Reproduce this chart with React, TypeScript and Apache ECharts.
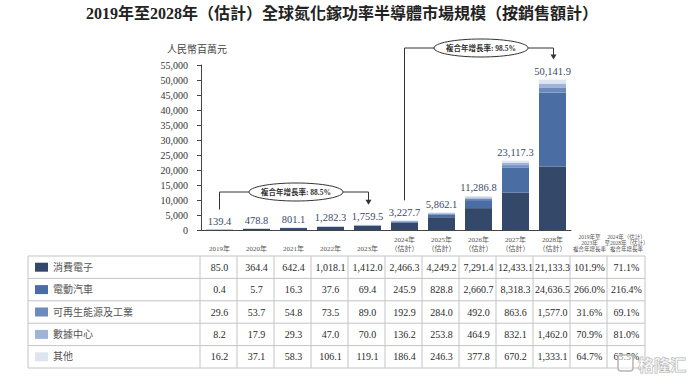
import React, { useEffect, useRef } from "react";
import * as echarts from "echarts";

const years = [
  "2019年", "2020年", "2021年", "2022年", "2023年",
  "2024年\n（估計）", "2025年\n（估計）", "2026年\n（估計）", "2027年\n（估計）", "2028年\n（估計）",
];
const segmentNames = ["消費電子", "電動汽車", "可再生能源及工業", "數據中心", "其他"];
const consumer = [85.0, 364.4, 642.4, 1018.1, 1412.0, 2466.3, 4249.2, 7291.4, 12433.1, 21133.3];
const ev = [0.4, 5.7, 16.3, 37.6, 69.4, 245.9, 828.8, 2660.7, 8318.3, 24636.5];
const renewable = [29.6, 53.7, 54.8, 73.5, 89.0, 192.9, 284.0, 492.0, 863.6, 1577.0];
const datacenter = [8.2, 17.9, 29.3, 47.0, 70.0, 136.2, 253.8, 464.9, 832.1, 1462.0];
const other = [16.2, 37.1, 58.3, 106.1, 119.1, 186.4, 246.3, 377.8, 670.2, 1333.1];
const totals = [139.4, 478.8, 801.1, 1282.3, 1759.5, 3227.7, 5862.1, 11286.8, 23117.3, 50141.9];
const cagrHist = ["101.9%", "266.0%", "31.6%", "70.9%", "64.7%"];
const cagrFcst = ["71.1%", "216.4%", "69.1%", "81.0%", "63.5%"];
const cagrHeaders = ["2019年至\n2023年\n複合年增長率", "2024年（估計）\n至2028年（估計）\n複合年增長率"];
const cagrNotes = [
  { from: 0, to: 4, label: "複合年增長率: 88.5%" },
  { from: 5, to: 9, label: "複合年增長率: 98.5%" },
];
const colors = ["#34496a", "#4a6ea3", "#6c8abb", "#9fb3d6", "#dde5f1"];

const FONT = "'Liberation Serif', 'Noto Sans CJK TC', serif";
const fmt = (v: number) =>
  v.toLocaleString("en-US", { minimumFractionDigits: 1, maximumFractionDigits: 1 });

export default function App() {
  const ref = useRef<HTMLDivElement>(null);
  useEffect(() => {
    if (!ref.current) return;
    const chart = echarts.init(ref.current, undefined, { renderer: "svg" });
    const seriesData = [consumer, ev, renewable, datacenter, other];
    const option: any = {
      animation: false,
      grid: { left: 201, top: 65, width: 370, height: 165 },
      xAxis: {
        type: "category",
        data: years,
        axisLine: { lineStyle: { color: "#444", width: 1 } },
        axisTick: { show: false },
        axisLabel: {
          fontSize: 7,
          lineHeight: 9,
          color: "#555",
          fontFamily: FONT,
          interval: 0,
          verticalAlign: "bottom",
          margin: 23,
        },
      },
      yAxis: {
        type: "value",
        min: 0,
        max: 55000,
        interval: 5000,
        axisLine: { show: true, lineStyle: { color: "#444", width: 1 } },
        axisTick: { show: true, length: 4, lineStyle: { color: "#444" } },
        splitLine: { show: false },
        axisLabel: {
          fontSize: 10,
          color: "#333",
          fontFamily: FONT,
          margin: 13,
          formatter: (v: number) => v.toLocaleString("en-US"),
        },
      },
      series: seriesData.map((d, k) => ({
        type: "bar",
        name: segmentNames[k],
        stack: "total",
        data: d,
        barWidth: 27,
        silent: true,
        itemStyle: { color: colors[k] },
        label:
          k === seriesData.length - 1
            ? {
                show: true,
                position: "top",
                distance: 3,
                fontSize: 10.5,
                color: "#3b4a68",
                fontFamily: FONT,
                formatter: (p: any) => fmt(totals[p.dataIndex]),
              }
            : { show: false },
      })),
    };
    chart.setOption(option);

    const px = (i: number, v: number) =>
      chart.convertToPixel({ gridIndex: 0 }, [i, v]) as number[];
    const c0 = px(0, 0);
    const c1 = px(1, 0);
    const band = c1[0] - c0[0];
    const centers = years.map((_, i) => px(i, 0)[0]);
    const lineCol = "#333";
    const g: any[] = [];

    g.push({
      type: "text",
      x: 342,
      y: 13,
      style: {
        text: "2019年至2028年（估計）全球氮化鎵功率半導體市場規模（按銷售額計）",
        font: `bold 16px ${FONT}`,
        fill: "#222",
        align: "center",
        verticalAlign: "middle",
      },
    });
    g.push({
      type: "text",
      x: 197,
      y: 49,
      style: { text: "人民幣百萬元", font: `10px ${FONT}`, fill: "#444", align: "center", verticalAlign: "middle" },
    });

    const noteY = [192, 48];
    cagrNotes.forEach((n, idx) => {
      const xa = centers[n.from];
      const xb = centers[n.to] + 1;
      const ya = px(n.from, totals[n.from])[1] - 20;
      const yb = px(n.to, totals[n.to])[1] - 20;
      const y = noteY[idx];
      const cx = (xa + xb) / 2 + 2;
      const rx = 47;
      g.push({
        type: "polyline",
        shape: { points: [[xa, ya], [xa, y], [cx - rx, y]] },
        style: { stroke: lineCol, lineWidth: 1, fill: null },
      });
      g.push({
        type: "polyline",
        shape: { points: [[cx + rx, y], [xb, y], [xb, yb - 4]] },
        style: { stroke: lineCol, lineWidth: 1, fill: null },
      });
      g.push({
        type: "polygon",
        shape: { points: [[xb - 3, yb - 5], [xb + 3, yb - 5], [xb, yb]] },
        style: { fill: lineCol },
      });
      g.push({
        type: "ellipse",
        shape: { cx, cy: y, rx, ry: 9 },
        style: { fill: "#fff", stroke: lineCol, lineWidth: 1 },
      });
      g.push({
        type: "text",
        x: cx,
        y: y,
        style: { text: n.label, font: `bold 7.5px ${FONT}`, fill: "#333", align: "center", verticalAlign: "middle" },
      });
    });

    cagrHeaders.forEach((h, j) => {
      g.push({
        type: "text",
        x: centers[9] + band * (j + 1),
        y: 243,
        style: {
          text: h,
          font: `5.5px ${FONT}`,
          lineHeight: 5.6,
          fill: "#555",
          align: "center",
          verticalAlign: "middle",
        },
      });
    });

    const tLeft = 28;
    const tTop = 256;
    const rowH = 22.4;
    const firstColRight = c0[0] - band / 2 - 1;
    const tRight = centers[9] + band * 2.5;
    const tBottom = tTop + rowH * segmentNames.length;
    const grid = "#c4c4c4";
    g.push({
      type: "rect",
      shape: { x: tLeft, y: tTop, width: tRight - tLeft, height: tBottom - tTop },
      style: { fill: null, stroke: grid, lineWidth: 1 },
    });
    for (let r = 1; r < segmentNames.length; r++) {
      const yy = tTop + rowH * r;
      g.push({ type: "line", shape: { x1: tLeft, y1: yy, x2: tRight, y2: yy }, style: { stroke: grid, lineWidth: 1 } });
    }
    for (let c = 0; c < 12; c++) {
      const xx = firstColRight + band * c;
      g.push({ type: "line", shape: { x1: xx, y1: tTop, x2: xx, y2: tBottom }, style: { stroke: grid, lineWidth: 1 } });
    }
    segmentNames.forEach((name, r) => {
      const cy = tTop + rowH * (r + 0.5);
      g.push({ type: "rect", shape: { x: 35, y: cy - 4.5, width: 13, height: 9 }, style: { fill: colors[r] } });
      g.push({
        type: "text",
        x: 53,
        y: cy,
        style: { text: name, font: `10px ${FONT}`, fill: "#555", align: "left", verticalAlign: "middle" },
      });
      const vals = seriesData[r].map(fmt).concat([cagrHist[r], cagrFcst[r]]);
      vals.forEach((v, c) => {
        g.push({
          type: "text",
          x: centers[0] + band * c,
          y: cy,
          style: { text: v, font: `10px ${FONT}`, fill: "#2a2a2a", align: "center", verticalAlign: "middle" },
        });
      });
    });

    g.push({
      type: "rect",
      shape: { x: 618, y: 355, width: 15, height: 16, r: 3 },
      style: { fill: "rgba(255,255,255,0.5)", stroke: "#b5b5b5", lineWidth: 1.5 },
    });
    g.push({
      type: "text",
      x: 662,
      y: 364,
      style: {
        text: "格隆汇",
        font: `bold 16px 'Noto Sans CJK SC', sans-serif`,
        fill: "rgba(255,255,255,0.6)",
        stroke: "#b5b5b5",
        lineWidth: 1,
        align: "center",
        verticalAlign: "middle",
      },
    });

    chart.setOption({ graphic: g });
    return () => chart.dispose();
  }, []);
  return (
    <div
      ref={ref}
      style={{ position: "absolute", left: 0, top: 0, width: 692, height: 381, background: "#fff" }}
    />
  );
}
